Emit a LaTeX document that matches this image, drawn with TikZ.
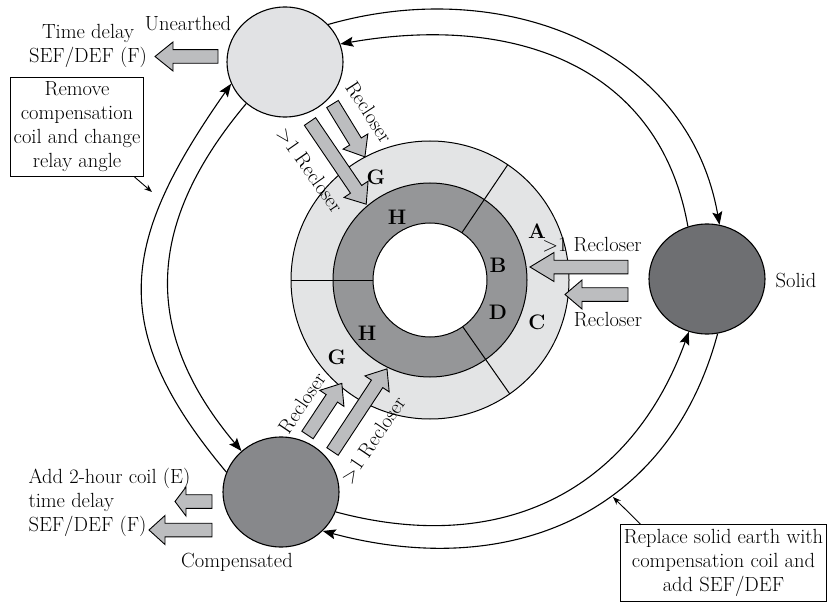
\documentclass[tikz,border=0pt]{standalone}
\usetikzlibrary{arrows.meta,shapes.geometric,calc}

\definecolor{unearthgray}{HTML}{E1E2E4}
\definecolor{solidgray}{HTML}{6E6F72}
\definecolor{compgray}{HTML}{87888B}
\definecolor{ringlight}{HTML}{E3E4E5}
\definecolor{ringdark}{HTML}{959698}
\definecolor{arrowgray}{HTML}{BCBDBF}

% fat grey arrow: [head length]{tail}{angle}{length}
\newcommand{\blockarrow}[4][18]{%
  \draw[blk, shift={(#2)}, rotate=#3]
    (0,-6.8) -- (#4-#1,-6.8) -- (#4-#1,-14.5) -- (#4,0)
    -- (#4-#1,14.5) -- (#4-#1,6.8) -- (0,6.8) -- cycle;}

\begin{document}
\begin{tikzpicture}[
  x=1pt, y=-1pt,
  font=\fontsize{20.5}{24}\selectfont,
  state/.style={draw, line width=1.1pt, ellipse, minimum width=116pt,
                minimum height=110pt, inner sep=0pt},
  trans/.style={line width=1.1pt, -{Stealth[length=13pt,width=10pt,inset=2.5pt]}},
  note/.style={draw, line width=0.9pt, align=center, inner xsep=3.5pt, inner ysep=4.5pt},
  ptr/.style={line width=0.9pt, -{Stealth[length=8pt,width=6pt]}},
  blk/.style={draw, line width=0.9pt, fill=arrowgray},
  seg/.style={font=\fontsize{21}{24}\selectfont\bfseries},
  ringline/.style={line width=1pt}
]
\useasboundingbox (0,0) rectangle (830,604);

% ---------------- zoned ring ----------------
\coordinate (ring) at (430,280);
\fill[ringlight] (ring) circle[radius=139pt];
\fill[ringdark] (ring) circle[radius=97pt];
\fill[white] (ring) circle[radius=57pt];
\draw[ringline] (ring) circle[radius=139pt] (ring) circle[radius=97pt]
  (ring) circle[radius=57pt];
\foreach \a in {56,180,-55}
  \draw[ringline] ($(ring)+(\a:57pt)$) -- ($(ring)+(\a:139pt)$);

\node[seg] (segA) at (537,231) {A};
\node[seg] (segB) at (498,265) {B};
\node[seg] (segC) at (537,322) {C};
\node[seg] (segD) at (498,312) {D};
\node[seg] (segHa) at (397,217) {H};
\node[seg] (segHb) at (367,333) {H};
\node[seg] (segGa) at (376,177) {G};
\node[seg] (segGb) at (337,357) {G};

% ---------------- earthing states ----------------
\node[state, fill=unearthgray] (une) at (285,62) {};
\node[state, fill=solidgray] (sol) at (707,279) {};
\node[state, fill=compgray] (cmp) at (281,492) {};

\node (uneLbl) at (188,24) {Unearthed};
\node (solLbl) at (796,280) {Solid};
\node (cmpLbl) at (237,562) {Compensated};

% ---------------- changes of state ----------------
\draw[trans] (une.41) to[out=16, in=100, looseness=1.05] (sol.77);
\draw[trans] (sol.110) to[out=100, in=10, looseness=1.1] (une.18);
\draw[trans] (cmp.160) to[out=130, in=235, looseness=1.25] (une.202);
\draw[trans] (une.227) to[out=230, in=130, looseness=1.15] (cmp.134);
\draw[trans] (sol.281) to[out=255, in=-15, looseness=1.1] (cmp.317);
\draw[trans] (cmp.340) to[out=-15, in=250, looseness=1.1] (sol.251);

% ---------------- protection arrows ----------------
\coordinate (uneTail) at (218,56.5);
\coordinate (cmpTailA) at (212,501.5);
\coordinate (cmpTailB) at (212,530);
\coordinate (solTailA) at (628,267);
\coordinate (solTailB) at (628,294.5);
\coordinate (ulTailA) at (332.5,104);
\coordinate (ulTailB) at (310,121.5);
\coordinate (llTailA) at (307.5,435);
\coordinate (llTailB) at (332.5,451.5);
\blockarrow{uneTail}{180}{63}
\blockarrow[11]{cmpTailA}{180}{37}
\blockarrow[16]{cmpTailB}{180}{63}
\blockarrow[24]{solTailA}{180}{98}
\blockarrow[17]{solTailB}{180}{63}
\blockarrow{ulTailA}{-58.5}{62}
\blockarrow{ulTailB}{-55.8}{100}
\blockarrow{llTailA}{56.4}{62}
\blockarrow{llTailB}{56.6}{99}

\node[rotate=-57] (recUA) at (369,112) {Recloser};
\node[rotate=-55] (recUB) at (310,170) {$>$1 Recloser};
\node[rotate=56] (recLA) at (302,403) {Recloser};
\node[rotate=56] (recLB) at (373,440) {$>$1 Recloser};
\node (recRA) at (592,245) {$>$1 Recloser};
\node (recRB) at (608,320) {Recloser};

% ---------------- actions ----------------
\node[align=center] (uneAct) at (88,46) {Time delay\\SEF/DEF (F)};
\node[align=left, anchor=west] (cmpAct) at (25,502)
  {Add 2-hour coil (E)\\time delay\\SEF/DEF (F)};
\node[note] (rmBox) at (77,127) {Remove\\compensation\\coil and change\\relay angle};
\node[note] (rpBox) at (723.5,563)
  {Replace solid earth with\\compensation coil and\\add SEF/DEF};
\coordinate (rmHit) at (152,192);
\coordinate (rpHit) at (613,497);
\draw[ptr] (rmBox.-41) -- (rmHit);
\draw[ptr] (rpBox.155) -- (rpHit);
\end{tikzpicture}
\end{document}
